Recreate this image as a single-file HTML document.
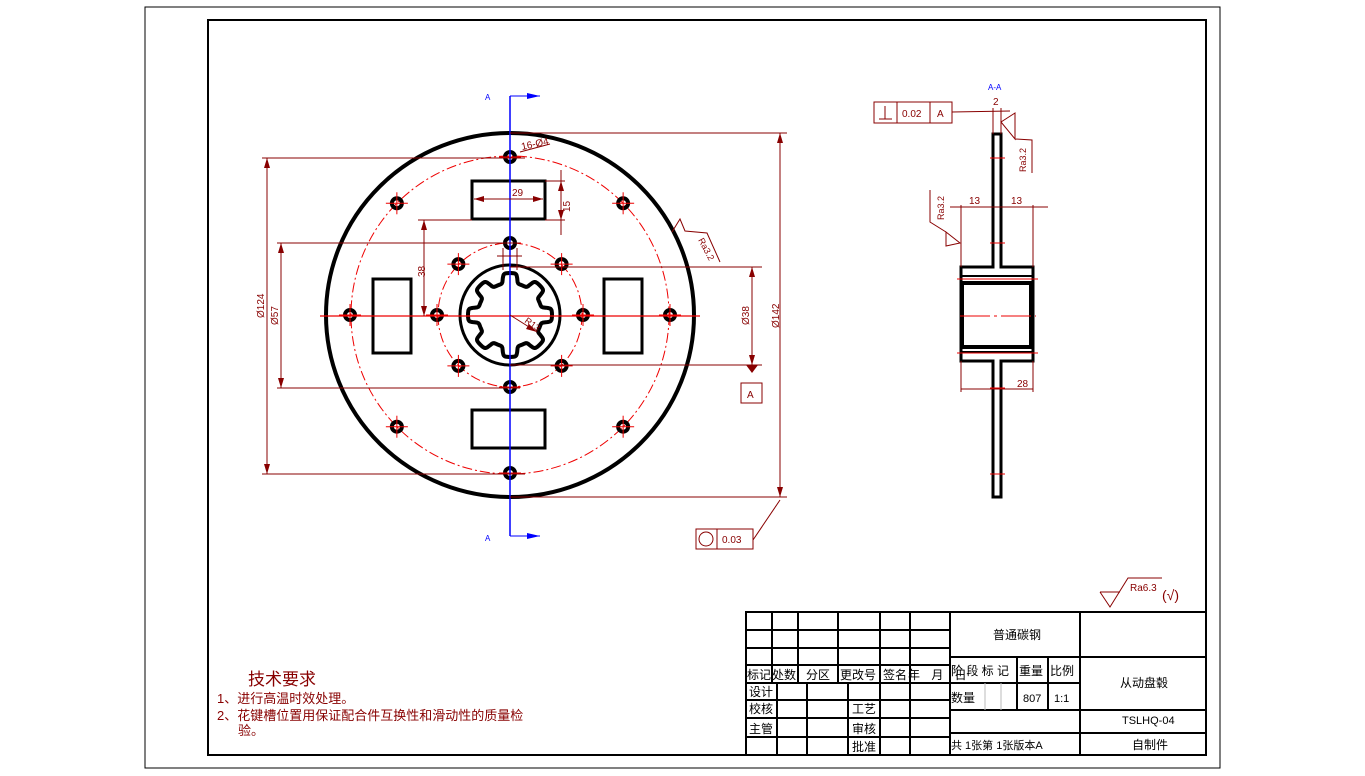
<!DOCTYPE html>
<html><head><meta charset="utf-8"><style>
html,body{margin:0;padding:0;background:#fff;width:1365px;height:776px;overflow:hidden}
svg{display:block}
text{font-family:"Liberation Sans","Noto Sans CJK SC",sans-serif}
</style></head><body>
<svg id="s" width="1365" height="776" viewBox="0 0 1365 776" xmlns="http://www.w3.org/2000/svg">
<rect x="145" y="7" width="1075" height="761" fill="none" stroke="#000" stroke-width="1"/>
<rect x="208" y="20" width="998" height="735" fill="none" stroke="#000" stroke-width="2"/>

<g fill="none">
<ellipse cx="510" cy="315" rx="184" ry="182" stroke="#000" stroke-width="4"/>
<circle cx="510" cy="315" r="159" stroke="#e00" stroke-width="1" stroke-dasharray="10 3 2 3"/>
<circle cx="510" cy="315" r="72" stroke="#e00" stroke-width="1" stroke-dasharray="10 3 2 3"/>
<circle cx="510" cy="315" r="50" stroke="#000" stroke-width="3"/>
<path id="spl" stroke="#000" stroke-width="4"/>
<g stroke="#000" stroke-width="3">
<rect x="472" y="181" width="73" height="38"/>
<rect x="472" y="410" width="73" height="38"/>
<rect x="373" y="279" width="38" height="74"/>
<rect x="604" y="279" width="38" height="74"/>
</g>
<g id="holes" stroke="#000" stroke-width="4"></g>
<g id="hc" stroke="#e00" stroke-width="1"></g>
<line x1="320" y1="316" x2="700" y2="316" stroke="#e00" stroke-width="1.2"/>
<line x1="510" y1="96" x2="510" y2="536" stroke="#00f" stroke-width="1.5"/>
<line x1="510" y1="96" x2="540" y2="96" stroke="#00f"/>
<line x1="510" y1="536" x2="540" y2="536" stroke="#00f"/>
<polygon points="527,93 540,96 527,99" fill="#00f"/>
<polygon points="527,533 540,536 527,539" fill="#00f"/>
</g>
<text x="485" y="100" font-size="8" fill="#00f">A</text>
<text x="485" y="541" font-size="8" fill="#00f">A</text>

<g stroke="#800" stroke-width="1" fill="none">
<line x1="510" y1="133" x2="787" y2="133"/><line x1="510" y1="497" x2="787" y2="497"/>
<line x1="780" y1="133" x2="780" y2="497"/>
<line x1="262" y1="158" x2="525" y2="158"/><line x1="262" y1="474" x2="525" y2="474"/>
<line x1="267" y1="158" x2="267" y2="474"/>
<line x1="277" y1="243" x2="520" y2="243"/><line x1="277" y1="388" x2="520" y2="388"/>
<line x1="281" y1="243" x2="281" y2="388"/>
<line x1="510" y1="267" x2="762" y2="267"/><line x1="510" y1="365" x2="762" y2="365"/>
<line x1="752" y1="267" x2="752" y2="365"/>
<line x1="418" y1="220" x2="472" y2="220"/>
<line x1="424" y1="220" x2="424" y2="316"/>
<line x1="545" y1="181" x2="565" y2="181"/><line x1="545" y1="220" x2="565" y2="220"/>
<line x1="561" y1="170" x2="561" y2="235"/>
<line x1="474" y1="199" x2="543" y2="199"/>
<line x1="520" y1="152" x2="550" y2="144"/>
<line x1="510" y1="315" x2="537" y2="332"/>
<line x1="497" y1="256" x2="522" y2="256"/>
<line x1="503" y1="248" x2="503" y2="270"/><line x1="517" y1="248" x2="517" y2="270"/>
<line x1="753" y1="540" x2="780" y2="500"/>
<path d="M672,232 L680,219 L685,231 L707,233 L720,262"/>
</g>
<g fill="#800">
<polygon points="780,133 777,143 783,143"/><polygon points="780,497 777,487 783,487"/>
<polygon points="267,158 264,168 270,168"/><polygon points="267,474 264,464 270,464"/>
<polygon points="281,243 278,253 284,253"/><polygon points="281,388 278,378 284,378"/>
<polygon points="752,267 749,277 755,277"/><polygon points="752,365 749,355 755,355"/>
<polygon points="746,365 758,365 752,373"/>
<polygon points="424,220 421,230 427,230"/><polygon points="424,316 421,306 427,306"/>
<polygon points="561,181 558,191 564,191"/><polygon points="561,220 558,210 564,210"/>
<polygon points="474,199 484,196 484,202"/><polygon points="543,199 533,196 533,202"/>
<polygon points="537,332 529,324 526,329"/>
</g>
<g fill="#800" font-size="10">
<text x="512" y="196">29</text>
<text x="522" y="150" transform="rotate(-12 522 150)">16-Ø4</text>
<text x="570" y="212" transform="rotate(-90 570 212)">15</text>
<text x="425" y="277" transform="rotate(-90 425 277)">38</text>
<text x="264" y="318" transform="rotate(-90 264 318)">Ø124</text>
<text x="278" y="325" transform="rotate(-90 278 325)">Ø57</text>
<text x="749" y="325" transform="rotate(-90 749 325)">Ø38</text>
<text x="779" y="328" transform="rotate(-90 779 328)">Ø142</text>
<text x="524" y="322" transform="rotate(35 524 322)" font-size="9">R13</text>
<text x="698" y="240" transform="rotate(62 698 240)" font-size="9">Ra3.2</text>
</g>
<rect x="741" y="383" width="21" height="20" fill="none" stroke="#800"/>
<text x="747" y="398" font-size="10" fill="#800">A</text>
<rect x="696" y="529" width="57" height="20" fill="none" stroke="#800"/>
<line x1="717" y1="529" x2="717" y2="549" stroke="#800"/>
<circle cx="706" cy="539" r="7" fill="none" stroke="#800"/>
<text x="722" y="543" font-size="10" fill="#800">0.03</text>

<text x="988" y="90" font-size="8" fill="#00f">A-A</text>
<g fill="none" stroke="#000" stroke-width="3">
<path d="M993,134 V267 H961 V361 H993 V497 H1001 V361 H1033 V267 H1001 V134 Z"/>
<rect x="962" y="283" width="69" height="64" stroke-width="4"/>
<line x1="961" y1="276" x2="1033" y2="276" stroke-width="2"/>
<line x1="961" y1="352" x2="1033" y2="352" stroke-width="2"/>
</g>
<g stroke="#e00" stroke-width="1">
<line x1="957" y1="279" x2="1038" y2="279"/><line x1="957" y1="353" x2="1038" y2="353"/>
<line x1="960" y1="316" x2="1036" y2="316" stroke-dasharray="30 4 3 4"/>
<line x1="990" y1="158" x2="1005" y2="158"/><line x1="990" y1="243" x2="1005" y2="243"/>
<line x1="990" y1="388" x2="1005" y2="388"/><line x1="990" y1="474" x2="1005" y2="474"/>
</g>
<g stroke="#800" stroke-width="1" fill="none">
<rect x="874" y="102" width="78" height="21"/>
<line x1="897" y1="102" x2="897" y2="123"/><line x1="930" y1="102" x2="930" y2="123"/>
<line x1="885" y1="106" x2="885" y2="119"/><line x1="879" y1="119" x2="892" y2="119"/>
<line x1="952" y1="112" x2="1010" y2="111"/>
<line x1="993" y1="108" x2="993" y2="134"/><line x1="1001" y1="108" x2="1001" y2="134"/>
<path d="M1001,122 L1015,113 L1015,139 Z M1015,139 L1032,140 L1032,173"/>
<line x1="961" y1="205" x2="961" y2="267"/><line x1="1033" y1="205" x2="1033" y2="267"/>
<line x1="950" y1="207" x2="1048" y2="207"/>
<path d="M960,243 L946,232 L946,246 Z M946,232 L930,222 L930,190"/>
<line x1="961" y1="361" x2="961" y2="392"/><line x1="1033" y1="361" x2="1033" y2="392"/>
<line x1="961" y1="389" x2="1033" y2="389"/>
</g>
<g fill="#800" font-size="9">
<text x="902" y="117" font-size="10">0.02</text>
<text x="937" y="117" font-size="10">A</text>
<text x="993" y="105" font-size="10">2</text>
<text x="969" y="204" font-size="10">13</text>
<text x="1011" y="204" font-size="10">13</text>
<text x="1017" y="387" font-size="10">28</text>
<text x="1026" y="172" transform="rotate(-90 1026 172)">Ra3.2</text>
<text x="944" y="220" transform="rotate(-90 944 220)">Ra3.2</text>
</g>

<path d="M1100,592 L1110,607 L1128,578 L1162,578" fill="none" stroke="#800"/>
<line x1="1100" y1="592" x2="1120" y2="592" stroke="#800"/>
<text x="1130" y="591" font-size="10" fill="#800">Ra6.3</text>
<text x="1162" y="600" font-size="14" fill="#800">(√)</text>

<text x="248" y="685" font-size="17" fill="#800">技术要求</text>
<text x="217" y="703" font-size="13" fill="#800">1、进行高温时效处理。</text>
<text x="217" y="720" font-size="13" fill="#800">2、花键槽位置用保证配合件互换性和滑动性的质量检</text>
<text x="238" y="735" font-size="13" fill="#800">验。</text>

<g stroke="#000" stroke-width="2" fill="none">
<rect x="746" y="612" width="460" height="143"/>
<line x1="746" y1="630" x2="950" y2="630"/><line x1="746" y1="648" x2="950" y2="648"/>
<line x1="746" y1="665" x2="950" y2="665"/><line x1="746" y1="683" x2="950" y2="683"/>
<line x1="746" y1="700" x2="950" y2="700"/><line x1="746" y1="718" x2="950" y2="718"/>
<line x1="746" y1="737" x2="950" y2="737"/>
<line x1="772" y1="612" x2="772" y2="683"/><line x1="798" y1="612" x2="798" y2="683"/>
<line x1="838" y1="612" x2="838" y2="683"/><line x1="880" y1="612" x2="880" y2="683"/>
<line x1="910" y1="612" x2="910" y2="683"/>
<line x1="777" y1="683" x2="777" y2="755"/><line x1="807" y1="683" x2="807" y2="755"/>
<line x1="848" y1="683" x2="848" y2="755"/><line x1="880" y1="683" x2="880" y2="755"/>
<line x1="910" y1="683" x2="910" y2="755"/>
<line x1="950" y1="612" x2="950" y2="755"/><line x1="1080" y1="612" x2="1080" y2="755"/>
<line x1="950" y1="657" x2="1206" y2="657"/><line x1="950" y1="683" x2="1080" y2="683"/>
<line x1="950" y1="710" x2="1206" y2="710"/><line x1="950" y1="733" x2="1206" y2="733"/>
<line x1="1017" y1="657" x2="1017" y2="710"/><line x1="1048" y1="657" x2="1048" y2="710"/>
</g>
<g stroke="#bbb" stroke-width="1"><line x1="985" y1="683" x2="985" y2="710"/><line x1="1001" y1="683" x2="1001" y2="710"/></g>
<g font-size="12" fill="#000">
<text x="993" y="639">普通碳钢</text>
<text x="747" y="679">标记</text><text x="772" y="679">处数</text><text x="806" y="679">分区</text>
<text x="840" y="679">更改号</text><text x="883" y="679">签名</text><text x="908" y="679" letter-spacing="4">年 月 日</text>
<text x="951" y="675">阶 段 标 记</text><text x="1019" y="675">重量</text><text x="1050" y="675">比例</text>
<text x="1120" y="687">从动盘毂</text>
<text x="749" y="696">设计</text><text x="749" y="713">校核</text><text x="749" y="733">主管</text>
<text x="852" y="713">工艺</text><text x="852" y="733">审核</text><text x="852" y="751">批准</text>
<text x="951" y="702">数量</text><text x="1023" y="702" font-size="11">807</text><text x="1054" y="702" font-size="11">1:1</text>
<text x="1122" y="724" font-size="11">TSLHQ-04</text>
<text x="951" y="749" font-size="11">共 1张第 1张版本A</text>
<text x="1132" y="749">自制件</text>
</g>
<script>
(function(){
var ns="http://www.w3.org/2000/svg",cx=510,cy=315;
var h=document.getElementById('holes'),c=document.getElementById('hc');
function hole(x,y){var e=document.createElementNS(ns,'circle');e.setAttribute('cx',x);e.setAttribute('cy',y);e.setAttribute('r',5);h.appendChild(e);
[[x-11,y,x+11,y],[x,y-11,x,y+11]].forEach(function(l){var L=document.createElementNS(ns,'line');L.setAttribute('x1',l[0]);L.setAttribute('y1',l[1]);L.setAttribute('x2',l[2]);L.setAttribute('y2',l[3]);c.appendChild(L);});}
for(var i=0;i<8;i++){var a=i*Math.PI/4;hole(cx+160*Math.sin(a),cy-158*Math.cos(a));hole(cx+73*Math.sin(a),cy-72*Math.cos(a));}
var d="";for(var k=0;k<=720;k++){var t=k/720*2*Math.PI;var r=37+5*Math.tanh(3*Math.cos(8*t));d+=(k?"L":"M")+(cx+r*Math.sin(t)).toFixed(1)+","+(cy-r*Math.cos(t)).toFixed(1);}
document.getElementById('spl').setAttribute('d',d+"Z");
})();
</script>
</svg>
</body></html>
